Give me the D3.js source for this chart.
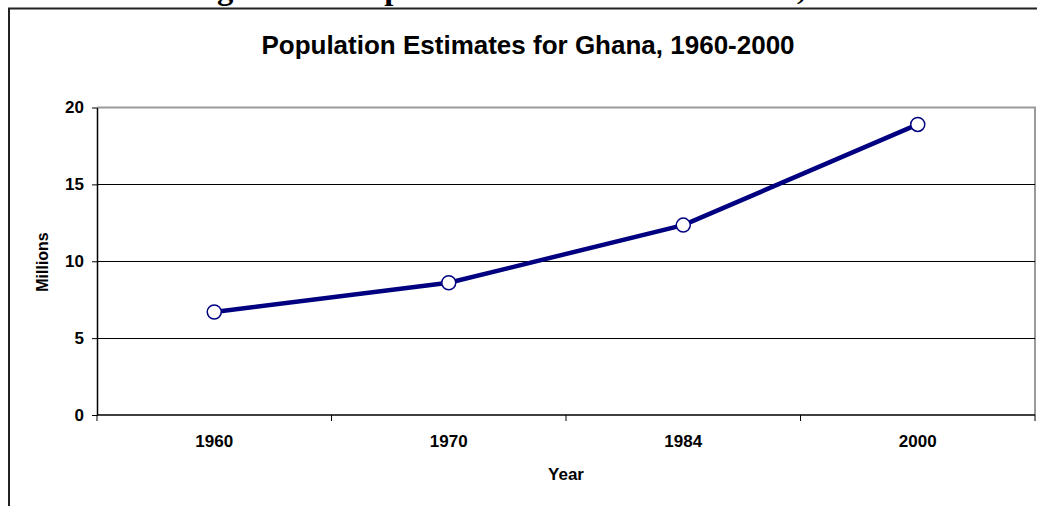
<!DOCTYPE html>
<html>
<head>
<meta charset="utf-8">
<script src="https://cdn.jsdelivr.net/npm/d3@7"></script>
<style>
  html, body { margin: 0; padding: 0; background: #fff; }
  svg { display: block; }
</style>
</head>
<body>
<svg id="chart" width="1037" height="506"></svg>
<script>
const years = ["1960", "1970", "1984", "2000"];
const population = [6.7, 8.6, 12.35, 18.9];
const yTicks = [0, 5, 10, 15, 20];
const chartTitle = "Population Estimates for Ghana, 1960-2000";
const pageHeading = "Figure 1.1: Population Estimates for Ghana, 1960-2000";
const yLabel = "Millions";
const xLabel = "Year";

const svg = d3.select("#chart");
const W = 1037, H = 506;
const plot = { left: 97, right: 1035, top: 107.5, bottom: 415 };

// page heading, cut off at the top (only descenders visible)
const head = svg.append("text")
  .attr("font-family", "'Liberation Serif', 'Times New Roman', serif")
  .attr("font-weight", "bold")
  .attr("font-size", 30)
  .attr("y", -1)
  .attr("fill", "#000")
  .text(pageHeading);
(function placeHeading() {
  const node = head.node();
  const gi = pageHeading.indexOf("g");
  const ci = pageHeading.indexOf(",");
  const gx = node.getStartPositionOfChar(gi).x;
  const cx = node.getStartPositionOfChar(ci).x;
  const fs = 30 * (797 - 217) / (cx - gx);
  head.attr("font-size", fs);
  const gx2 = node.getStartPositionOfChar(gi).x;
  head.attr("x", 217 - gx2);
})();

// outer chart border
svg.append("rect")
  .attr("x", 9).attr("y", 8.5)
  .attr("width", W + 20).attr("height", H + 20)
  .attr("fill", "none")
  .attr("stroke", "#222")
  .attr("stroke-width", 2);

// chart title
const title = svg.append("text")
  .attr("x", 528).attr("y", 54)
  .attr("text-anchor", "middle")
  .attr("font-family", "Arial, 'Liberation Sans', sans-serif")
  .attr("font-weight", "bold")
  .attr("font-size", 26)
  .text(chartTitle);

const x = d3.scaleBand().domain(years).range([plot.left, plot.right]).padding(0);
const y = d3.scaleLinear().domain([0, 20]).range([plot.bottom, plot.top]);

// plot area frame (top/right gray)
svg.append("path")
  .attr("d", `M${plot.left},${plot.top}H${plot.right}V${plot.bottom}`)
  .attr("fill", "none")
  .attr("stroke", "#9a9a9a")
  .attr("stroke-width", 2);

// gridlines
svg.append("g")
  .selectAll("line")
  .data(yTicks.filter(d => d > 0 && d < 20))
  .join("line")
  .attr("x1", plot.left).attr("x2", plot.right)
  .attr("y1", d => Math.round(y(d)) + 0.5).attr("y2", d => Math.round(y(d)) + 0.5)
  .attr("stroke", "#000").attr("stroke-width", 1);

// y axis
const yAxis = svg.append("g")
  .attr("transform", `translate(${plot.left},0)`)
  .call(d3.axisLeft(y).tickValues(yTicks).tickSize(5).tickPadding(8).tickSizeOuter(0));
yAxis.select(".domain").attr("stroke", "#000").attr("stroke-width", 1.5);
yAxis.selectAll(".tick line").attr("stroke", "#000").attr("stroke-width", 1);
yAxis.selectAll("text")
  .attr("font-family", "Arial, 'Liberation Sans', sans-serif")
  .attr("font-weight", "bold")
  .attr("font-size", 17)
  .attr("fill", "#000");

// x axis: baseline + ticks at category boundaries
const xAxis = svg.append("g").attr("transform", `translate(0,${plot.bottom})`);
xAxis.append("line")
  .attr("x1", plot.left).attr("x2", plot.right)
  .attr("stroke", "#000").attr("stroke-width", 1.5);
const boundaries = years.map(d => x(d)).concat([x(years[years.length - 1]) + x.bandwidth()]);
xAxis.selectAll("line.tk").data(boundaries).join("line")
  .attr("class", "tk")
  .attr("x1", d => d).attr("x2", d => d)
  .attr("y1", 0).attr("y2", 6)
  .attr("stroke", "#000").attr("stroke-width", 1);
xAxis.selectAll("text").data(years).join("text")
  .attr("x", d => x(d) + x.bandwidth() / 2)
  .attr("y", 32)
  .attr("text-anchor", "middle")
  .attr("font-family", "Arial, 'Liberation Sans', sans-serif")
  .attr("font-weight", "bold")
  .attr("font-size", 17)
  .text(d => d);

// axis labels
svg.append("text")
  .attr("x", 566).attr("y", 480)
  .attr("text-anchor", "middle")
  .attr("font-family", "Arial, 'Liberation Sans', sans-serif")
  .attr("font-weight", "bold")
  .attr("font-size", 17)
  .text(xLabel);
svg.append("text")
  .attr("transform", "translate(48,262) rotate(-90)")
  .attr("text-anchor", "middle")
  .attr("font-family", "Arial, 'Liberation Sans', sans-serif")
  .attr("font-weight", "bold")
  .attr("font-size", 16)
  .text(yLabel);

// series line
const data = years.map((d, i) => ({ year: d, value: population[i] }));
const line = d3.line()
  .x(d => x(d.year) + x.bandwidth() / 2)
  .y(d => y(d.value));
svg.append("path")
  .datum(data)
  .attr("d", line)
  .attr("fill", "none")
  .attr("stroke", "#000080")
  .attr("stroke-width", 4.5)
  .attr("stroke-linejoin", "round");

svg.append("g").selectAll("circle").data(data).join("circle")
  .attr("cx", d => x(d.year) + x.bandwidth() / 2)
  .attr("cy", d => y(d.value))
  .attr("r", 7)
  .attr("fill", "#fff")
  .attr("stroke", "#000080")
  .attr("stroke-width", 1.5);
</script>
</body>
</html>
